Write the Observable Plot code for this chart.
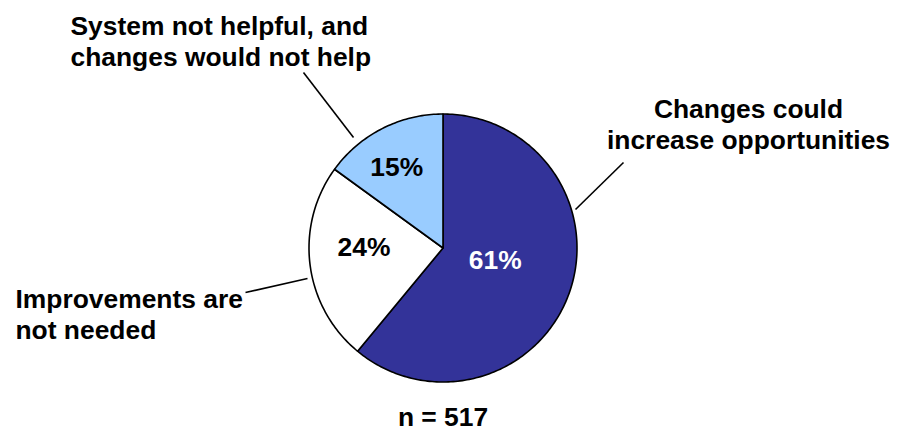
<!DOCTYPE html>
<html>
<head>
<meta charset="utf-8">
<script src="https://cdn.jsdelivr.net/npm/d3@7"></script>
<script src="https://cdn.jsdelivr.net/npm/@observablehq/plot@0.6"></script>
<style>
  html, body { margin: 0; padding: 0; background: #ffffff; }
  #chart svg { display: block; }
</style>
</head>
<body>
<div id="chart"></div>
<script>
// Survey responses (share of respondents, %)
const categories = [
  "Changes could increase opportunities",
  "Improvements are not needed",
  "System not helpful, and changes would not help"
];
const shares = [61, 24, 15];
const sampleSize = 517;

// Two-line versions of the category names
const categoryLabels = [
  "Changes could\nincrease opportunities",
  "Improvements are\nnot needed",
  "System not helpful, and\nchanges would not help"
];

const sliceColors = ["#333399", "#ffffff", "#99ccff"];
const pctColors = ["#ffffff", "#000000", "#000000"];

// Layout
const W = 903, H = 440;
const pie = {cx: 442.5, cy: 247.5, r: 134};
const font = "'Liberation Sans', Arial, Helvetica, sans-serif";
const fontSize = 26.4;
// polar placement of the percentage labels (degrees clockwise from 12 o'clock, fraction of radius)
const pctPlacement = [{deg: 103, k: 0.40}, {deg: 270, k: 0.59}, {deg: 330, k: 0.69}];
// category label anchors and leader lines
const catPlacement = [
  {x: 748, y: 96,  anchor: "middle", line: [[623, 162], [575, 209]]},
  {x: 15,  y: 286, anchor: "start",  line: [[245, 292], [307, 278]]},
  {x: 70,  y: 13,  anchor: "start",  line: [[303, 72],  [353, 137]]}
];

const arcs = d3.pie().sort(null).value(d => d)(shares);

const polar = (a, rr) => [pie.cx + rr * Math.sin(a), pie.cy - rr * Math.cos(a)];

// closed outline of each slice: center -> arc -> center
const slicePolygons = arcs.map((a, i) => {
  const n = Math.max(2, Math.ceil((a.endAngle - a.startAngle) / (Math.PI / 180)));
  const pts = [{i, p: [pie.cx, pie.cy]}];
  for (let s = 0; s <= n; s++) {
    const t = a.startAngle + (a.endAngle - a.startAngle) * s / n;
    pts.push({i, p: polar(t, pie.r)});
  }
  pts.push({i, p: [pie.cx, pie.cy]});
  return pts;
});

const pctLabels = arcs.map((a, i) => {
  const p = polar(pctPlacement[i].deg * Math.PI / 180, pctPlacement[i].k * pie.r);
  return {x: p[0], y: p[1], text: `${shares[i]}%`, color: pctColors[i]};
});

const catLabels = categories.map((c, i) => ({
  name: c, text: categoryLabels[i], ...catPlacement[i]
}));

const leaders = catLabels.map(d => ({x1: d.line[0][0], y1: d.line[0][1], x2: d.line[1][0], y2: d.line[1][1]}));

const chart = Plot.plot({
  width: W,
  height: H,
  margin: 0,
  x: {type: "identity", axis: null},
  y: {type: "identity", axis: null},
  style: {background: "#ffffff", fontFamily: font},
  marks: [
    ...slicePolygons.map((pts, i) => Plot.line(pts, {
      x: d => d.p[0], y: d => d.p[1],
      fill: sliceColors[i], stroke: "#000000", strokeWidth: 1.6,
      strokeLinejoin: "round", curve: "linear"
    })),
    Plot.link(leaders, {x1: "x1", y1: "y1", x2: "x2", y2: "y2", stroke: "#000000", strokeWidth: 1.6}),
    Plot.text(pctLabels, {
      x: "x", y: "y", text: "text", fill: "color",
      fontSize, fontWeight: "bold", fontFamily: font, lineAnchor: "middle"
    }),
    ...catLabels.map(d => Plot.text([d], {
      x: "x", y: "y", text: "text", textAnchor: d.anchor, lineAnchor: "top",
      lineHeight: 1.17, fontSize, fontWeight: "bold", fontFamily: font, fill: "#000000"
    })),
    Plot.text([`n = ${sampleSize}`], {
      x: () => pie.cx, y: () => 425, text: d => d, lineAnchor: "bottom",
      fontSize, fontWeight: "bold", fontFamily: font, fill: "#000000"
    })
  ]
});

document.getElementById("chart").appendChild(chart);
</script>
</body>
</html>
